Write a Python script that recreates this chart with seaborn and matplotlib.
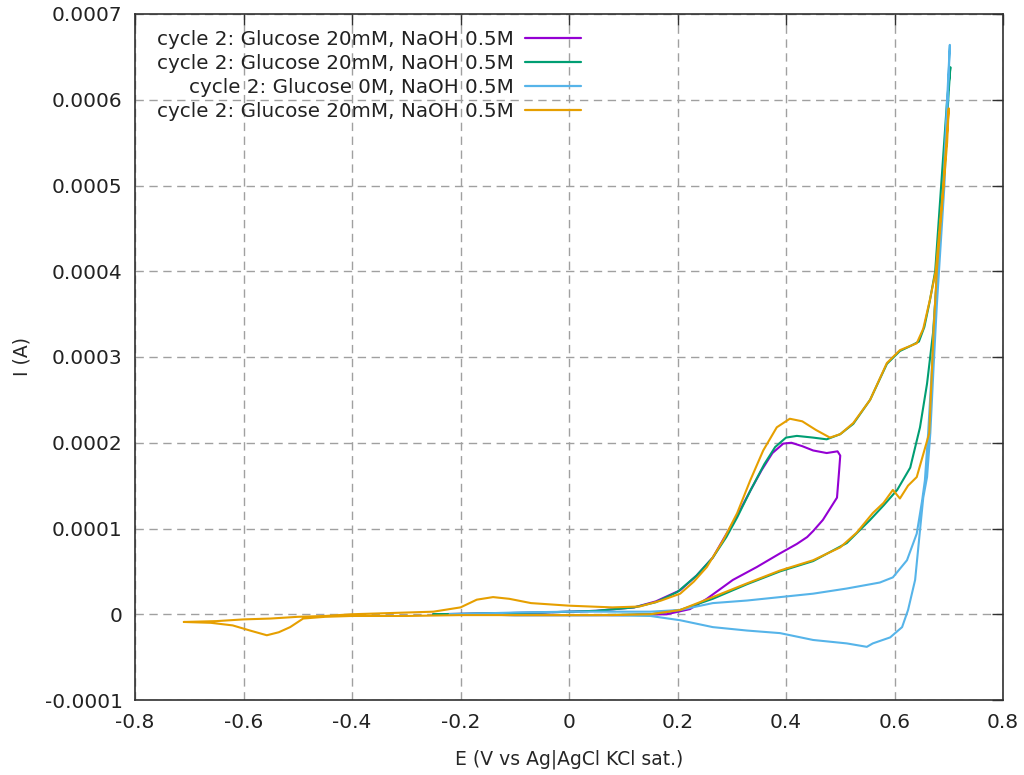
import numpy as np
import pandas as pd
import matplotlib
matplotlib.use("Agg")
import matplotlib.pyplot as plt
from matplotlib.ticker import FuncFormatter, MultipleLocator
import seaborn as sns

# Cyclic voltammograms, cycle 2 (potential in V, current in units of 1e-4 A)
labels = [
    "cycle 2: Glucose 20mM, NaOH 0.5M",
    "cycle 2: Glucose 20mM, NaOH 0.5M",
    "cycle 2: Glucose 0M, NaOH 0.5M",
    "cycle 2: Glucose 20mM, NaOH 0.5M",
]
colors = ["#9400d3", "#009e73", "#56b4e9", "#e69f00"]

# Scan reversed at 0.5 V
e_purple = [-0.25, -0.15, -0.05, 0.05, 0.12, 0.16, 0.205, 0.235, 0.265, 0.285, 0.31,
            0.335, 0.355, 0.375, 0.395, 0.41, 0.43, 0.45, 0.475, 0.495,
            0.50, 0.498, 0.494, 0.48, 0.468, 0.45, 0.439, 0.42, 0.389, 0.346,
            0.302, 0.254, 0.223, 0.18, 0.10, 0.0, -0.1, -0.25]
i_purple = [0.0, 0.01, 0.02, 0.04, 0.08, 0.15, 0.28, 0.45, 0.66, 0.88, 1.15,
            1.45, 1.68, 1.88, 1.99, 2.00, 1.96, 1.91, 1.88, 1.90,
            1.85, 1.68, 1.36, 1.22, 1.10, 0.97, 0.90, 0.82, 0.71, 0.55,
            0.40, 0.18, 0.06, 0.0, -0.01, -0.01, -0.01, 0.0]

# Scan reversed at 0.7 V
e_green = [-0.25, -0.15, -0.05, 0.05, 0.12, 0.16, 0.2, 0.235, 0.265, 0.29, 0.31,
           0.335, 0.36, 0.38, 0.40, 0.42, 0.45, 0.475, 0.5, 0.524, 0.555, 0.586,
           0.61, 0.63, 0.645, 0.655, 0.665, 0.675, 0.686, 0.697, 0.703,
           0.700, 0.69, 0.679, 0.671, 0.660, 0.647, 0.629, 0.605, 0.58, 0.555,
           0.512, 0.45, 0.389, 0.328, 0.265, 0.205, 0.15, 0.05, -0.1, -0.25]
i_green = [0.0, 0.01, 0.02, 0.04, 0.08, 0.14, 0.26, 0.45, 0.66, 0.90, 1.13,
           1.45, 1.75, 1.95, 2.06, 2.08, 2.06, 2.04, 2.10, 2.22, 2.50, 2.92,
           3.07, 3.13, 3.18, 3.35, 3.65, 4.0, 5.0, 6.0, 6.38,
           6.1, 5.0, 4.0, 3.28, 2.69, 2.18, 1.71, 1.45, 1.27, 1.10,
           0.83, 0.62, 0.50, 0.35, 0.18, 0.05, 0.0, -0.01, -0.01, 0.0]

# Blank electrolyte
e_blue = [-0.22, -0.1, 0.0, 0.1, 0.15, 0.205, 0.265, 0.328, 0.389, 0.45, 0.512,
          0.573, 0.597, 0.623, 0.641, 0.651, 0.656, 0.662, 0.669, 0.675, 0.679,
          0.690, 0.697, 0.702,
          0.700, 0.692, 0.682, 0.678, 0.672, 0.666, 0.660, 0.653, 0.647, 0.638,
          0.625, 0.614, 0.592, 0.56, 0.549, 0.512, 0.45, 0.389, 0.328, 0.265,
          0.205, 0.15, 0.05, -0.1, -0.22]
i_blue = [0.0, 0.02, 0.03, 0.03, 0.03, 0.05, 0.13, 0.16, 0.20, 0.24, 0.30,
          0.37, 0.43, 0.63, 0.94, 1.33, 1.56, 2.11, 2.88, 3.66, 4.01,
          5.0, 6.0, 6.64,
          6.3, 5.0, 4.0, 3.6, 2.88, 2.11, 1.6, 1.36, 0.98, 0.40,
          0.05, -0.15, -0.27, -0.34, -0.38, -0.34, -0.30, -0.22, -0.19, -0.15,
          -0.07, -0.02, -0.01, -0.01, 0.0]

# Full window -0.7 V to 0.7 V
e_orange = [-0.71, -0.65, -0.6, -0.55, -0.5, -0.45, -0.40, -0.35, -0.3, -0.25,
            -0.2, -0.17, -0.14, -0.11, -0.07, 0.0, 0.08, 0.13, 0.17, 0.205,
            0.23, 0.254, 0.284, 0.31, 0.334, 0.358, 0.383, 0.407, 0.43, 0.455,
            0.481, 0.50, 0.524, 0.555, 0.586, 0.61, 0.641, 0.653, 0.665, 0.676,
            0.69, 0.700,
            0.697, 0.688, 0.678, 0.672, 0.668, 0.664, 0.641, 0.625, 0.61, 0.597,
            0.58, 0.56, 0.53, 0.50, 0.45, 0.389, 0.328, 0.265, 0.205, 0.15,
            0.08, 0.0, -0.1, -0.2, -0.3, -0.4, -0.45, -0.49, -0.514, -0.535,
            -0.557, -0.588, -0.62, -0.66, -0.71]
i_orange = [-0.09, -0.08, -0.06, -0.05, -0.03, -0.02, 0.0, 0.01, 0.02, 0.03,
            0.08, 0.17, 0.20, 0.18, 0.13, 0.10, 0.08, 0.09, 0.16, 0.24,
            0.38, 0.55, 0.86, 1.18, 1.56, 1.91, 2.18, 2.28, 2.25, 2.15,
            2.06, 2.10, 2.23, 2.50, 2.93, 3.08, 3.16, 3.33, 3.66, 4.0,
            5.0, 5.90,
            5.5, 4.8, 4.0, 3.3, 2.7, 2.11, 1.60, 1.50, 1.35, 1.45,
            1.30, 1.18, 0.95, 0.78, 0.63, 0.51, 0.36, 0.20, 0.05, 0.0,
            -0.01, -0.01, -0.01, -0.01, -0.02, -0.02, -0.03, -0.05, -0.15, -0.21,
            -0.245, -0.19, -0.13, -0.10, -0.09]

series_e = [e_purple, e_green, e_blue, e_orange]
series_i = [i_purple, i_green, i_blue, i_orange]

frames = []
for k, (e, i) in enumerate(zip(series_e, series_i)):
    frames.append(pd.DataFrame({
        "E": e,
        "I": np.array(i) * 1e-4,
        "order": np.arange(len(e)),
        "trace": k,
    }))
data = pd.concat(frames, ignore_index=True)

sns.set_style("white")
plt.rcParams["font.family"] = ["DejaVu Sans"]
plt.rcParams["text.color"] = "#222222"

fig = plt.figure(figsize=(10.24, 7.75), dpi=100)
ax = fig.add_axes([135 / 1024, 1 - 700 / 775, 868 / 1024, 686 / 775])

for k in range(4):
    sub = data[data["trace"] == k]
    sns.lineplot(data=sub, x="E", y="I", sort=False, estimator=None,
                 color=colors[k], linewidth=1.5, label=labels[k], ax=ax)

ax.set_xlim(-0.8, 0.8)
ax.set_ylim(-0.0001, 0.0007)
ax.xaxis.set_major_locator(MultipleLocator(0.2))
ax.yaxis.set_major_locator(MultipleLocator(0.0001))


def fmt_x(v, pos):
    return "0" if abs(v) < 1e-9 else f"{v:.1f}"


def fmt_y(v, pos):
    return "0" if abs(v) < 1e-12 else f"{v:.4f}"


ax.xaxis.set_major_formatter(FuncFormatter(fmt_x))
ax.yaxis.set_major_formatter(FuncFormatter(fmt_y))

ax.grid(True, color="#a0a0a0", linestyle=(0, (6, 4)), linewidth=1.0)
ax.set_axisbelow(True)
for side in ax.spines.values():
    side.set_color("#303030")
    side.set_linewidth(1.2)
ax.tick_params(direction="in", length=8, width=1.0, top=True, right=True,
               labelsize=14.5, colors="#303030", pad=9)
for lab in ax.get_xticklabels() + ax.get_yticklabels():
    lab.set_color("#222222")

ax.set_xlabel("E (V vs Ag|AgCl KCl sat.)", fontsize=13.5, labelpad=13)
ax.set_ylabel("I (A)", fontsize=13.5, labelpad=9)

leg = ax.legend(loc="upper right", bbox_to_anchor=(581 / 1024, 1 - 30 / 775),
                bbox_transform=fig.transFigure, frameon=False, markerfirst=False,
                fontsize=14.3, handlelength=2.8, handletextpad=0.6,
                labelspacing=0.25, borderpad=0, borderaxespad=0)
for line in leg.get_lines():
    line.set_linewidth(1.6)

fig.savefig("out.png", dpi=100)
